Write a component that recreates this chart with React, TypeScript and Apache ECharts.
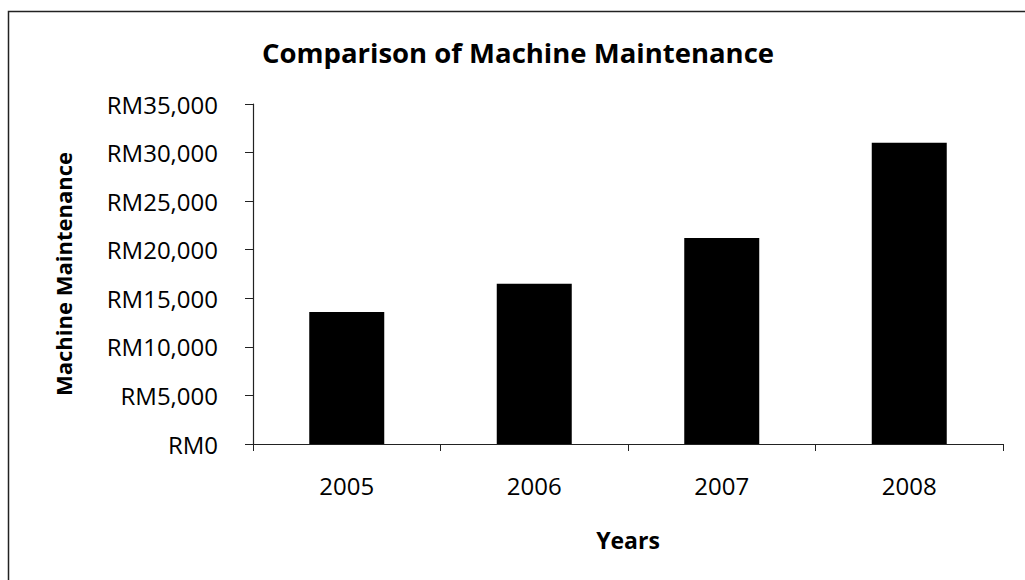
import React, { useEffect, useRef } from "react";
import * as echarts from "echarts";

const categories = ["2005", "2006", "2007", "2008"];
const maintenance = [13600, 16500, 21200, 31000];
const yMin = 0;
const yMax = 35000;
const yStep = 5000;

const FONT = "'Open Sans', 'Noto Sans', sans-serif";

export default function App() {
  const ref = useRef<HTMLDivElement>(null);
  useEffect(() => {
    if (!ref.current) return;
    const chart = echarts.init(ref.current, null, { renderer: "svg" });
    chart.setOption({
      animation: false,
      backgroundColor: "#ffffff",
      textStyle: { fontFamily: FONT },
      title: {
        text: "Comparison of Machine Maintenance",
        left: 513,
        top: 33,
        textAlign: "center",
        textStyle: { fontFamily: FONT, fontSize: 27.5, fontWeight: "bold", color: "#000" },
      },
      graphic: [
        {
          type: "rect",
          shape: { x: 8.5, y: 11.5, width: 1040, height: 620 },
          style: { fill: "none", stroke: "#222", lineWidth: 1.5 },
          silent: true,
        },
      ],
      grid: { left: 253, right: 22, top: 104, bottom: 136, containLabel: false },
      xAxis: {
        type: "category",
        data: categories,
        name: "Years",
        nameLocation: "middle",
        nameGap: 84,
        nameTextStyle: { fontFamily: FONT, fontSize: 23, fontWeight: "bold", color: "#000" },
        axisLine: { lineStyle: { color: "#222", width: 1.2 } },
        axisTick: { show: true, length: 7, inside: false, alignWithLabel: false, lineStyle: { color: "#222" } },
        axisLabel: { fontFamily: FONT, fontSize: 24, color: "#000", margin: 29 },
      },
      yAxis: {
        type: "value",
        min: yMin,
        max: yMax,
        interval: yStep,
        name: "Machine Maintenance",
        nameLocation: "middle",
        nameGap: 179,
        nameRotate: 90,
        nameTextStyle: { fontFamily: FONT, fontSize: 22, fontWeight: "bold", color: "#000" },
        axisLine: { show: true, lineStyle: { color: "#222", width: 1.2 } },
        axisTick: { show: true, length: 8, lineStyle: { color: "#222" } },
        splitLine: { show: false },
        axisLabel: {
          fontFamily: FONT,
          fontSize: 24,
          color: "#000",
          margin: 35,
          formatter: (v: number) => "RM" + v.toLocaleString("en-US"),
        },
      },
      series: [
        {
          type: "bar",
          data: maintenance,
          barWidth: "40%",
          itemStyle: { color: "#000000" },
        },
      ],
    });
    return () => chart.dispose();
  }, []);
  return (
    <div
      ref={ref}
      style={{ position: "fixed", left: 0, top: 0, width: 1025, height: 580, background: "#fff" }}
    />
  );
}
